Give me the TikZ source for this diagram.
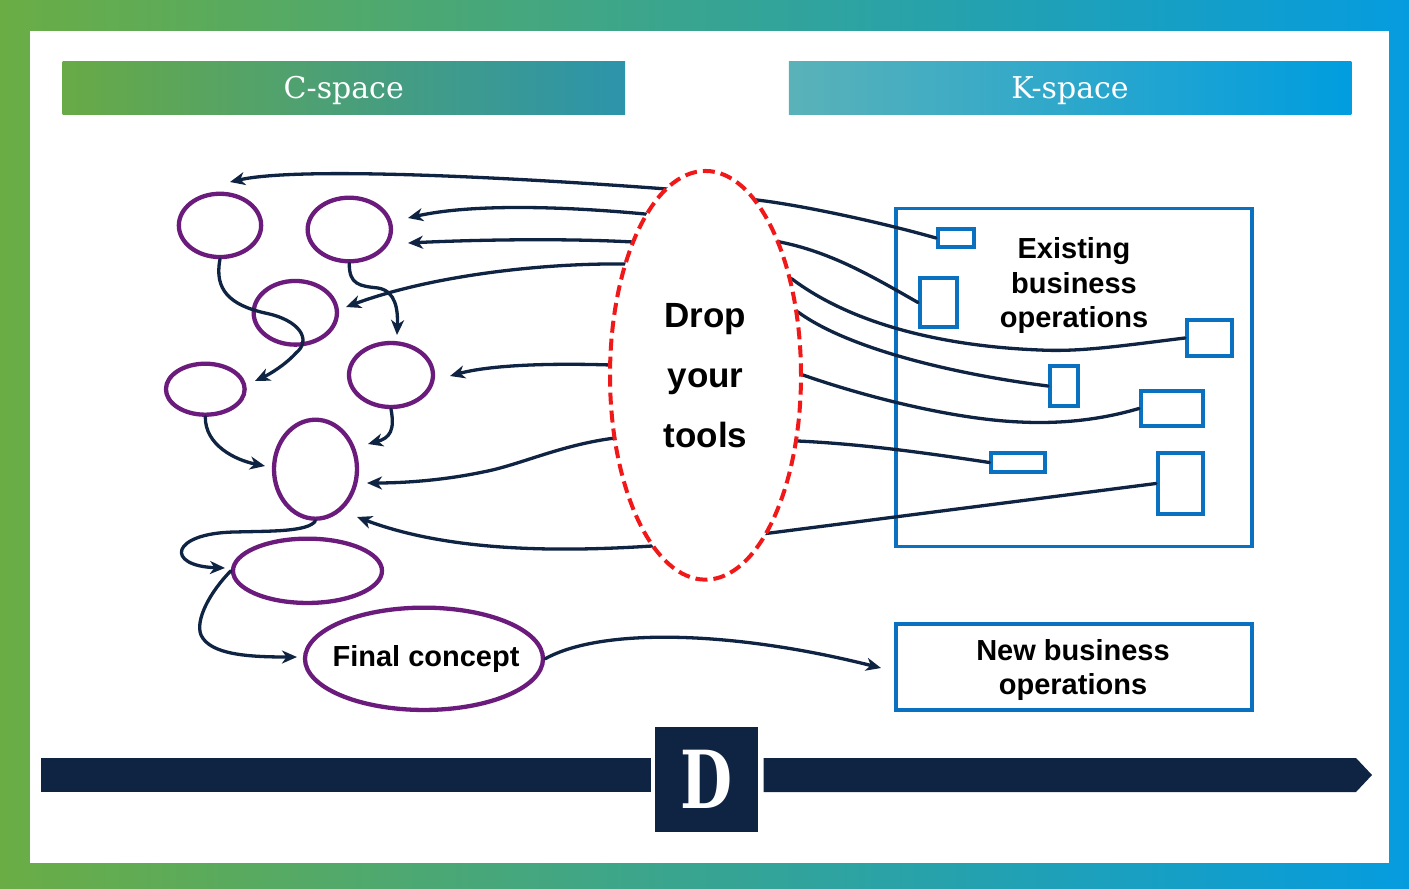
\documentclass[tikz,border=0pt]{standalone}
\usepackage{fontspec}
\setmainfont{Liberation Sans}
\newfontfamily\slabfont{DejaVu Serif}
\usetikzlibrary{shapes.geometric,arrows.meta}
\definecolor{navy}{HTML}{0F2342}
\definecolor{cpurple}{HTML}{6A1B7C}
\definecolor{kblue}{HTML}{0A70C0}
\definecolor{dropred}{HTML}{F01818}
\definecolor{frameL}{HTML}{6AAD45}
\definecolor{frameM}{HTML}{2EA293}
\definecolor{frameR}{HTML}{059CDF}
\definecolor{cbarL}{HTML}{68AA46}
\definecolor{cbarR}{HTML}{2C94AB}
\definecolor{kbarL}{HTML}{5AB2B8}
\definecolor{kbarR}{HTML}{009DDF}
\begin{document}
\begin{tikzpicture}[x=1pt,y=-1pt,
  cell/.style={ellipse, draw=cpurple, line width=4.3pt, inner sep=0pt},
  op/.style={rectangle, draw=kblue, line width=3.6pt, inner sep=0pt},
  conn/.style={draw=navy, line width=3.3pt, line cap=round, -{Stealth[length=15pt,width=13pt,inset=4.5pt]}},
  lbl/.style={font=\bfseries\fontsize{29}{34.5}\selectfont, align=center, inner sep=0pt},
  headbar/.style={minimum width=562.5pt, minimum height=53pt, inner sep=0pt, text=white, text depth=0pt, font=\slabfont\fontsize{30}{36}\selectfont},
]
\useasboundingbox (0,0) rectangle (1409,889);
% frame
\shade[left color=frameL, middle color=frameM, right color=frameR] (0,0) rectangle (1409,889);
\fill[white] (30,31) rectangle (1389,863);
% headers
\node[headbar, left color=cbarL, right color=cbarR] (cspace) at (343.75,87.5) {C-space};
\node[headbar, left color=kbarL, right color=kbarR] (kspace) at (1070,87.5) {K-space};
% K-space boxes
\node[op, minimum width=356.5pt, minimum height=337.8pt] (kbox) at (1074,377.4) {};
\node[op, minimum width=36.5pt, minimum height=18.5pt] (r1) at (956,238) {};
\node[op, minimum width=37.5pt, minimum height=49.5pt] (r2) at (938.5,302.5) {};
\node[op, minimum width=45.5pt, minimum height=36.5pt] (r3) at (1209.5,338) {};
\node[op, minimum width=28.5pt, minimum height=40.5pt] (r4) at (1064,386) {};
\node[op, minimum width=62.5pt, minimum height=35.5pt] (r5) at (1172,408.5) {};
\node[op, minimum width=53.5pt, minimum height=19.5pt] (r6) at (1018,462.5) {};
\node[op, minimum width=45.5pt, minimum height=61.5pt] (r7) at (1180.5,483.5) {};
\node[lbl] (existtxt) at (1074,285.5) {Existing\\business\\operations};
\node[op, minimum width=356.5pt, minimum height=86.5pt] (newops) at (1074,667) {};
\node[lbl] (newtxt) at (1073,670) {New business\\operations};
% C-space ellipses
\node[cell, minimum width=82.3pt, minimum height=63.3pt] (e1) at (220,225.4) {};
\node[cell, minimum width=83.3pt, minimum height=63.6pt] (e2) at (349.3,229.5) {};
\node[cell, minimum width=83.3pt, minimum height=63.7pt] (e3) at (295.3,312.8) {};
\node[cell, minimum width=78.7pt, minimum height=51pt] (e4) at (205.3,389.2) {};
\node[cell, minimum width=84pt, minimum height=64pt] (e5) at (391,375) {};
\node[cell, minimum width=83pt, minimum height=99pt] (e6) at (315.5,469.2) {};
\node[cell, minimum width=149pt, minimum height=64.3pt] (e7) at (307.5,570.8) {};
\node[cell, minimum width=238pt, minimum height=102.3pt] (e8) at (424,658.8) {};
\node[lbl] (fctxt) at (426,659) {Final concept};
% arrow ends
\coordinate (tA) at (230,182);
\coordinate (tB) at (408,218);
\coordinate (tC) at (408,243);
\coordinate (tD) at (346,307);
\coordinate (tE) at (450,376);
\coordinate (tF) at (367,483);
\coordinate (tG) at (357,517);
\coordinate (tH) at (255,381);
\coordinate (tI) at (397,335);
\coordinate (tJ) at (265,466);
\coordinate (tK) at (368,444);
\coordinate (tL) at (225,568);
\coordinate (tM) at (297,657);
\coordinate (tN) at (881,668);
% connectors from K-space through the drop zone
\draw[conn] (r1.west) .. controls (880,222) and (800,205) .. (757,200) -- (667,189) .. controls (520,178) and (300,166) .. (tA);
\draw[conn] (r2.west) .. controls (870,275) and (830,252) .. (780,242) -- (645,214) .. controls (560,206) and (470,204) .. (tB);
\draw[conn] (r3.west) .. controls (1120,346) and (1080,352) .. (1040,350) .. controls (960,347) and (860,330) .. (792,279) -- (633,242) .. controls (560,238) and (470,240) .. (tC);
\draw[conn] (r4.west) .. controls (960,375) and (850,350) .. (798,312) -- (625,264) .. controls (540,263) and (430,276) .. (tD);
\draw[conn] (r5.west) .. controls (1100,420) and (1060,424) .. (1020,422) .. controls (950,419) and (860,395) .. (803,375) -- (611,365) .. controls (550,363) and (490,365) .. (tE);
\draw[conn] (r6.west) .. controls (920,452) and (860,444) .. (798,441) -- (615,438) .. controls (560,445) and (520,465) .. (483,472) .. controls (440,481) and (400,483) .. (tF);
\draw[conn] (r7.west) -- (770,533) -- (652,546) .. controls (560,552) and (450,552) .. (tG);
% connectors inside C-space
\draw[conn] (e1.south) .. controls (214,290) and (230,305) .. (265,313) .. controls (300,320) and (312,340) .. (296,353) .. controls (285,365) and (270,374) .. (tH);
\draw[conn] (e2.south) .. controls (349,285) and (360,286) .. (378,288) .. controls (396,291) and (398,310) .. (tI);
\draw[conn] (e4.south) .. controls (205,445) and (235,460) .. (tJ);
\draw[conn] (e5.south) .. controls (395,430) and (390,438) .. (tK);
\draw[conn] (e6.south) .. controls (308,532) and (270,531) .. (235,532) .. controls (170,533) and (165,566) .. (tL);
\draw[conn] (e7.west) .. controls (210,592) and (195,620) .. (201,635) .. controls (210,655) and (250,657) .. (tM);
\draw[conn] (e8.east) .. controls (600,628) and (730,630) .. (tN);
% drop zone
\node[ellipse, draw=dropred, fill=white, line width=4pt, dash pattern=on 12pt off 6pt, minimum width=191pt, minimum height=408.7pt, inner sep=0pt, align=center, font=\bfseries\fontsize{35}{60}\selectfont] (drop) at (705.5,375.3) {Drop\\your\\tools};
% timeline
\fill[navy] (41,758) rectangle (651,792);
\fill[navy] (763.5,758) -- (1356,758) -- (1372,775) -- (1356,792) -- (763.5,792) -- cycle;
\node[fill=navy, minimum width=103pt, minimum height=105pt, inner sep=0pt, text=white] (dbox) at (706.5,779.5) {\slabfont\bfseries\fontsize{80}{80}\selectfont\scalebox{0.75}[1]{D}};
\end{tikzpicture}
\end{document}
